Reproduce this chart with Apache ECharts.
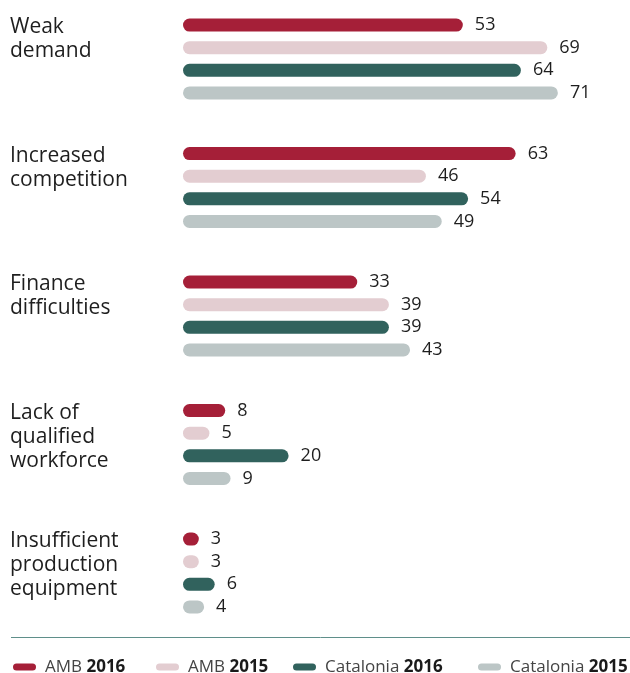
<!DOCTYPE html>
<html>
<head>
<meta charset="utf-8">
<script src="https://cdn.jsdelivr.net/npm/echarts@6/dist/echarts.min.js"></script>
<style>
html,body{margin:0;padding:0;background:#fff;}
#chart{width:630px;height:673px;}
</style>
</head>
<body>
<div id="chart"></div>
<script>
var categories = ['Weak\ndemand', 'Increased\ncompetition', 'Finance\ndifficulties', 'Lack of\nqualified\nworkforce', 'Insufficient\nproduction\nequipment'];
var seriesNames = ['AMB 2016', 'AMB 2015', 'Catalonia 2016', 'Catalonia 2015'];
var amb2016 = [53, 63, 33, 8, 3];
var amb2015 = [69, 46, 39, 5, 3];
var cat2016 = [64, 54, 39, 20, 6];
var cat2015 = [71, 49, 43, 9, 4];
var colors = ['#a51f38', '#e3cdd1', '#31625d', '#bcc6c6'];

var FONT = '"Open Sans", "Noto Sans", sans-serif';
var values = [amb2016, amb2015, cat2016, cat2015];

var chart = echarts.init(document.getElementById('chart'), null, {renderer: 'canvas'});

var gridTop = -5.25, gridH = 642.5, gridLeft = 183, gridW = 422.4;

var series = values.map(function (v, i) {
  return {
    name: seriesNames[i],
    type: 'bar',
    xAxisIndex: 0,
    yAxisIndex: 0,
    data: v,
    color: colors[i],
    barWidth: 13,
    barGap: '74%',
    itemStyle: {color: colors[i], borderRadius: 6.5},
    label: {
      show: true,
      position: 'right',
      distance: 12,
      fontSize: 18,
      fontFamily: FONT,
      color: '#1e1e1e'
    },
    emphasis: {disabled: true},
    animation: false
  };
});

var legendLefts = [13, 156, 293, 478];
var legends = seriesNames.map(function (nm, i) {
  return {
    data: [nm],
    left: legendLefts[i],
    top: 657,
    padding: 0,
    itemWidth: 23,
    itemHeight: 7,
    icon: 'path://M3.5,0 H19.5 A3.5,3.5 0 0 1 19.5,7 H3.5 A3.5,3.5 0 0 1 3.5,0 Z',
    selectedMode: false,
    formatter: function (name) {
      var idx = name.lastIndexOf(' ');
      return '{n|' + name.slice(0, idx) + '} {b|' + name.slice(idx + 1) + '}';
    },
    textStyle: {
      fontFamily: FONT, fontSize: 17, color: '#444', lineHeight: 20,
      padding: [0, 0, 0, 4],
      rich: {
        n: {fontFamily: FONT, fontSize: 17, color: '#444', lineHeight: 20},
        b: {fontFamily: FONT, fontSize: 17, fontWeight: 'bold', color: '#1a1a1a', lineHeight: 20}
      }
    }
  };
});

var option = {
  animation: false,
  grid: [
    {left: gridLeft, top: gridTop, width: gridW, height: gridH, containLabel: false, outerBoundsMode: 'none'},
    {left: gridLeft, top: gridTop - 43.5, width: gridW, height: gridH, containLabel: false, outerBoundsMode: 'none'}
  ],
  xAxis: [
    {gridIndex: 0, type: 'value', min: 0, max: 80, show: false},
    {gridIndex: 1, type: 'value', min: 0, max: 80, show: false}
  ],
  yAxis: [
    {gridIndex: 0, type: 'category', data: categories, inverse: true,
     axisLine: {show: false}, axisTick: {show: false}, axisLabel: {show: false}, splitLine: {show: false}},
    {gridIndex: 1, type: 'category', data: categories, inverse: true,
     axisLine: {show: false}, axisTick: {show: false}, splitLine: {show: false},
     axisLabel: {
       show: true, interval: 0, align: 'left', verticalAlign: 'top',
       margin: 173, fontSize: 21, lineHeight: 24, fontFamily: FONT, color: '#1e1e1e'
     }}
  ],
  legend: legends,
  graphic: [{
    type: 'line',
    shape: {x1: 11, y1: 637.5, x2: 630, y2: 637.5},
    style: {stroke: '#5f8f8a', lineWidth: 1}
  }],
  series: series
};

chart.setOption(option);
</script>
</body>
</html>
